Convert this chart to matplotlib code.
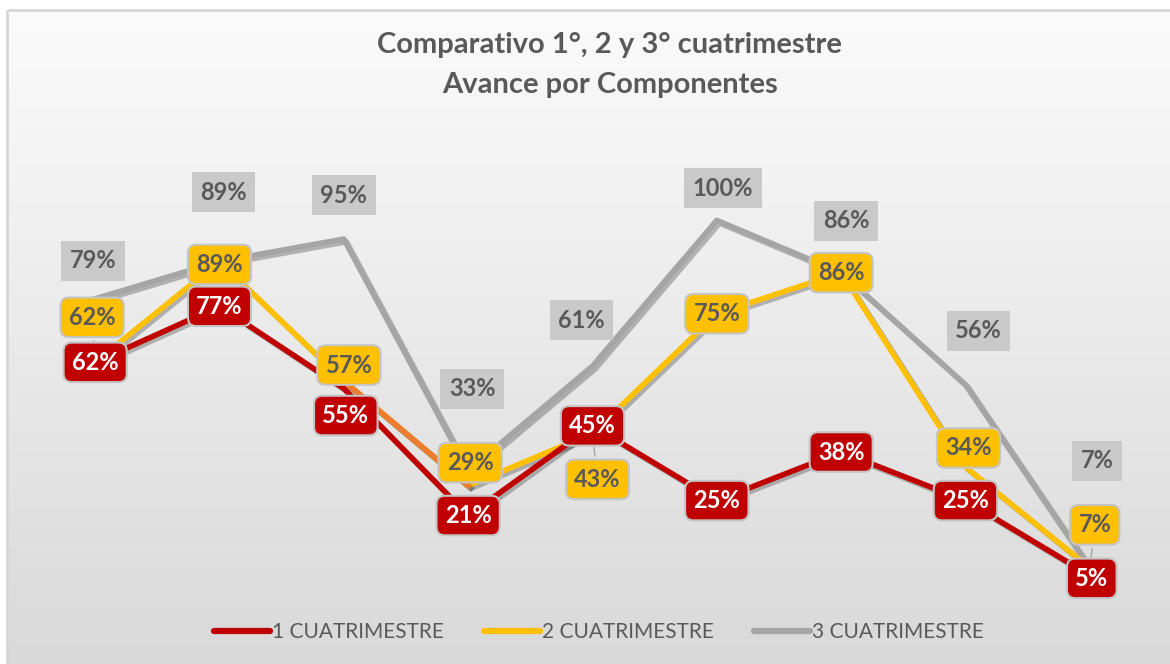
import numpy as np
import matplotlib
matplotlib.use("Agg")
import matplotlib.pyplot as plt
import matplotlib.patheffects as pe
from matplotlib.colors import LinearSegmentedColormap
from matplotlib.lines import Line2D
from matplotlib.patches import Rectangle

plt.rcParams['font.family'] = ['Lato', 'DejaVu Sans']

# datos (porcentaje de avance)
componentes = list(range(9))
cuatri_1 = [62, 77, 55, 21, 45, 25, 38, 25, 5]
cuatri_2 = [62, 89, 57, 29, 43, 75, 86, 34, 7]
cuatri_3 = [79, 89, 95, 33, 61, 100, 86, 56, 7]
series_names = ['1 CUATRIMESTRE', '2 CUATRIMESTRE', '3 CUATRIMESTRE']

# desplazamiento de las etiquetas (pixeles)
off_1 = [(0, 0), (0, 0), (2, -27), (0, 0), (0, 0), (0, 0), (0, 0), (0, 0), (2, -3)]
off_2 = [(-3, 45), (0, -3), (5, 16), (2, 23), (5, -46), (0, 0), (0, 0), (3, 19), (5, 43)]
off_3 = [(-2, 38), (4, 69), (0, 44), (4, 82), (-11, 46), (6, 32), (5, 52), (13, 54), (7, 107)]

RED = '#C00000'
YEL = '#FFC000'
GRY = '#A5A5A5'
TXT = '#595959'

fig = plt.figure(figsize=(11.7, 6.64), dpi=100)
fig.patch.set_facecolor('white')

# fondo con degradado y borde
bg = fig.add_axes([0, 0, 1, 1])
bg.set_xlim(0, 1170)
bg.set_ylim(664, 0)
bg.axis('off')
grad = np.linspace(0, 1, 256).reshape(-1, 1)
cmap = LinearSegmentedColormap.from_list('fondo', ['#fbfbfb', '#d9d9d9'])
bg.imshow(grad, extent=[7, 1170, 664, 10], cmap=cmap, aspect='auto', zorder=0)
bg.add_patch(Rectangle((6.5, 9.5), 1200, 700, fill=False, ec='#d6d6d6', lw=2, zorder=1))

ax = fig.add_axes([0.0282, 0.1054, 0.9564, 0.619])
ax.patch.set_alpha(0)
ax.set_xlim(-0.5, 8.5)
ax.set_ylim(0, 110)
ax.axis('off')

shadow = [pe.SimpleLineShadow(offset=(2, -2), alpha=0.25, shadow_color='black'), pe.Normal()]
lw = 4.0
ax.plot(componentes, cuatri_3, color=GRY, lw=lw, path_effects=shadow, zorder=2)
ax.plot(componentes, cuatri_2, color=YEL, lw=lw, path_effects=shadow, zorder=3)
ax.plot(componentes[2:4], cuatri_2[2:4], color='#ED7D31', lw=lw, path_effects=shadow, zorder=3)
ax.plot(componentes, cuatri_1, color=RED, lw=lw, path_effects=shadow, zorder=4)

fs = 17
for i, v in enumerate(cuatri_3):
    ax.annotate(f'{v}%', (i, v), xytext=off_3[i], textcoords='offset pixels',
                ha='center', va='center', fontsize=fs, fontweight='bold', color=TXT,
                bbox=dict(boxstyle='square,pad=0.36', fc='#c9c9c9', ec='none'), zorder=5)
for i, v in enumerate(cuatri_2):
    arrow = dict(arrowstyle='-', color='#a6a6a6', lw=1) if abs(off_2[i][1]) > 40 else None
    ax.annotate(f'{v}%', (i, v), xytext=off_2[i], textcoords='offset pixels',
                ha='center', va='center', fontsize=fs, fontweight='bold', color=TXT,
                bbox=dict(boxstyle='round,pad=0.35,rounding_size=0.35', fc=YEL, ec='#c4c4c4', lw=1.5),
                arrowprops=arrow, zorder=6)
for i, v in enumerate(cuatri_1):
    ax.annotate(f'{v}%', (i, v), xytext=off_1[i], textcoords='offset pixels',
                ha='center', va='center', fontsize=fs, fontweight='bold', color='white',
                bbox=dict(boxstyle='round,pad=0.35,rounding_size=0.35', fc=RED, ec='#c4c4c4', lw=1.5),
                zorder=7)

# titulo
fig.text(0.521, 1 - 45 / 664, 'Comparativo 1°, 2 y 3° cuatrimestre', ha='center', va='center',
         fontsize=21, fontweight='bold', color=TXT)
fig.text(0.521, 1 - 85 / 664, 'Avance por Componentes', ha='center', va='center',
         fontsize=21, fontweight='bold', color=TXT)

# leyenda
handles = [Line2D([], [], color=c, lw=4.5, solid_capstyle='round') for c in (RED, YEL, GRY)]
fig.legend(handles, series_names, loc='center', bbox_to_anchor=(0.512, 1 - 632 / 664), ncol=3,
           frameon=False, fontsize=15, labelcolor=TXT, handlelength=2.7, handletextpad=0.1,
           columnspacing=1.9)

fig.savefig('out.png', dpi=100, facecolor=fig.get_facecolor())
